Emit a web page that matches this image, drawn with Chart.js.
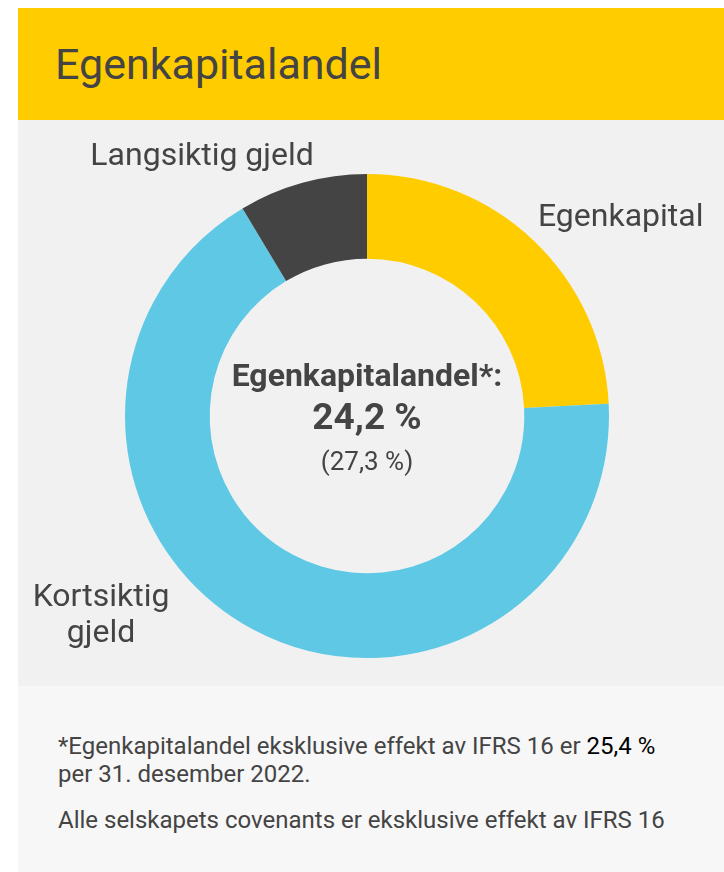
<!DOCTYPE html>
<html lang="no">
<head>
<meta charset="utf-8">
<script src="https://cdn.jsdelivr.net/npm/chart.js@4"></script>
<style>
  body { margin: 0; background: #fff; font-family: Roboto, sans-serif; color: #444; }
  .card { position: absolute; left: 18px; top: 8px; width: 706px; }
  .head { height: 112px; background: #ffcc00; display: flex; align-items: center; }
  .head h1 { margin: 0 0 0 37px; font-weight: 400; font-size: 43px; color: #444; }
  .body { height: 566px; background: #f1f1f1; position: relative; }
  .body canvas { display: block; }
  .foot { height: 186px; background: #f7f7f7; box-sizing: border-box; padding: 46px 0 0 40px; font-size: 24px; line-height: 28px; }
  .foot p { margin: 0 0 18px 0; }
  .foot b { font-weight: 400; color: #000; }
</style>
</head>
<body>
<div class="card">
  <div class="head"><h1>Egenkapitalandel</h1></div>
  <div class="body"><canvas id="c" width="706" height="566"></canvas></div>
  <div class="foot">
    <p>*Egenkapitalandel eksklusive effekt av IFRS 16 er <b>25,4 %</b><br>per 31. desember 2022.</p>
    <p>Alle selskapets covenants er eksklusive effekt av IFRS 16</p>
  </div>
</div>
<script>
// data (share of balance, %)
const categories = ['Egenkapital', 'Kortsiktig gjeld', 'Langsiktig gjeld'];
const shares = [24.2, 67.2, 8.6];
const colors = ['#ffcc00', '#5fc8e5', '#444444'];
const labelLines = [['Egenkapital'], ['Kortsiktig', 'gjeld'], ['Langsiktig gjeld']];
const centerTitle = 'Egenkapitalandel*:';
const centerValue = '24,2 %';
const centerPrev = '(27,3 %)';

// where each outside label sits: angle from 12 o'clock (deg), distance past outer edge (px)
const labelPlace = [
    { angle: 52, gap: 80 },
    { angle: 233, gap: 91 },
    { angle: 327.5, gap: 65 }
];

const outsideLabels = {
    id: 'outsideLabels',
    afterDatasetsDraw(chart) {
        const ctx = chart.ctx;
        const arc = chart.getDatasetMeta(0).data[0];
        const cx = arc.x, cy = arc.y, r = arc.outerRadius;
        ctx.save();
        ctx.fillStyle = '#444';
        ctx.font = '32px Roboto';
        ctx.textAlign = 'center';
        ctx.textBaseline = 'middle';
        labelLines.forEach((lines, i) => {
            const a = labelPlace[i].angle * Math.PI / 180;
            const d = r + labelPlace[i].gap;
            const x = cx + Math.sin(a) * d;
            const y = cy - Math.cos(a) * d;
            const lh = 36;
            lines.forEach((t, j) => {
                ctx.fillText(t, x, y + (j - (lines.length - 1) / 2) * lh);
            });
        });
        // text in the hole
        ctx.font = 'bold 32px Roboto';
        ctx.fillText(centerTitle, cx, cy - 38);
        ctx.font = 'bold 37px Roboto';
        ctx.fillText(centerValue, cx, cy + 4);
        ctx.font = '26px Roboto';
        ctx.fillText(centerPrev, cx, cy + 47);
        ctx.restore();
    }
};

new Chart(document.getElementById('c'), {
    type: 'doughnut',
    data: {
        labels: categories,
        datasets: [{
            data: shares,
            backgroundColor: colors,
            borderWidth: 0,
            hoverOffset: 0
        }]
    },
    options: {
        responsive: false,
        animation: false,
        cutout: '65%',
        layout: { padding: { top: 54, bottom: 28, left: 107, right: 115 } },
        plugins: {
            legend: { display: false },
            tooltip: { enabled: false }
        }
    },
    plugins: [outsideLabels]
});
</script>
</body>
</html>
